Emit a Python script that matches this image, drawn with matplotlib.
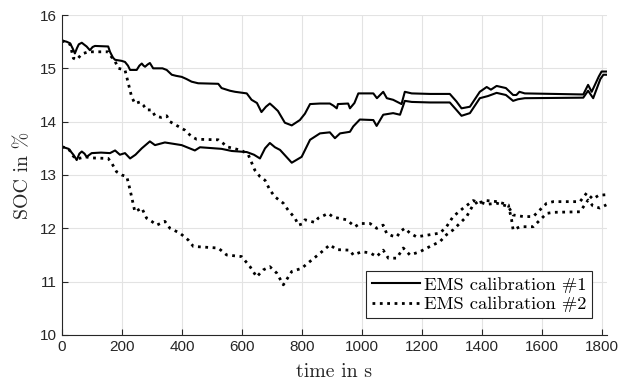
import numpy as np
import matplotlib
matplotlib.use('Agg')
import matplotlib.pyplot as plt

# EMS calibration #1 (solid), two runs
t_a1 = [0, 15, 27, 35, 43, 50, 56, 66, 75, 82, 93, 102, 110, 154, 160, 170, 177, 199, 210, 220,
        227, 249, 258, 266, 272, 277, 285, 293, 304, 320, 335, 349, 366, 380, 399, 415, 432, 454,
        521, 532, 560, 577, 616, 632, 650, 665, 680, 693, 705, 720, 743, 766, 793, 810, 827, 860,
        893, 905, 916, 920, 954, 960, 975, 988, 1038, 1050, 1071, 1083, 1104, 1132, 1143, 1166,
        1227, 1293, 1315, 1332, 1360, 1393, 1416, 1430, 1449, 1480, 1504, 1515, 1525, 1543, 1738,
        1754, 1766, 1790, 1799, 1815]
soc_a1 = [15.52, 15.5, 15.47, 15.38, 15.28, 15.38, 15.45, 15.48, 15.44, 15.41, 15.34, 15.4, 15.42,
          15.41, 15.31, 15.2, 15.16, 15.14, 15.12, 15.05, 14.97, 14.97, 15.05, 15.09, 15.05, 15.03,
          15.07, 15.1, 15.0, 15.0, 15.0, 14.97, 14.88, 14.86, 14.84, 14.8, 14.75, 14.72, 14.71,
          14.63, 14.58, 14.56, 14.53, 14.41, 14.35, 14.18, 14.28, 14.34, 14.28, 14.2, 13.98, 13.93,
          14.03, 14.15, 14.33, 14.34, 14.34, 14.3, 14.25, 14.33, 14.34, 14.25, 14.35, 14.53, 14.53,
          14.44, 14.56, 14.44, 14.41, 14.33, 14.56, 14.53, 14.52, 14.52, 14.38, 14.25, 14.28, 14.56,
          14.65, 14.6, 14.67, 14.63, 14.5, 14.5, 14.56, 14.53, 14.51, 14.69, 14.56, 14.85, 14.94,
          14.94]

t_a2 = [0, 22, 38, 49, 58, 66, 75, 82, 99, 130, 160, 177, 193, 210, 227, 245, 266, 293, 310, 343,
        399, 443, 460, 532, 566, 616, 640, 660, 677, 693, 710, 727, 766, 799, 827, 860, 893, 910,
        927, 960, 971, 993, 1038, 1049, 1071, 1104, 1127, 1143, 1166, 1227, 1293, 1315, 1332,
        1360, 1393, 1420, 1449, 1480, 1504, 1520, 1543, 1738, 1754, 1771, 1795, 1805, 1815]
soc_a2 = [13.53, 13.49, 13.38, 13.28, 13.4, 13.44, 13.4, 13.34, 13.41, 13.42, 13.41, 13.46, 13.38,
          13.41, 13.31, 13.38, 13.5, 13.63, 13.56, 13.61, 13.56, 13.46, 13.52, 13.49, 13.45, 13.43,
          13.38, 13.31, 13.5, 13.6, 13.52, 13.47, 13.23, 13.34, 13.66, 13.78, 13.8, 13.69, 13.78,
          13.81, 13.91, 14.04, 14.03, 13.92, 14.13, 14.16, 14.13, 14.39, 14.37, 14.36, 14.36,
          14.22, 14.11, 14.16, 14.44, 14.48, 14.54, 14.5, 14.39, 14.42, 14.44, 14.45, 14.58, 14.44,
          14.8, 14.88, 14.88]

# EMS calibration #2 (dotted), two runs
t_b1 = [0, 27, 38, 49, 66, 88, 154, 160, 177, 188, 210, 221, 232, 243, 260, 271, 282, 299, 310,
        330, 349, 360, 388, 410, 432, 449, 521, 538, 549, 599, 621, 643, 660, 677, 693, 710, 738,
        754, 777, 788, 800, 810, 843, 854, 888, 904, 949, 977, 993, 1027, 1049, 1071, 1082, 1100,
        1116, 1130, 1143, 1160, 1182, 1227, 1260, 1282, 1304, 1338, 1371, 1390, 1416, 1450, 1488,
        1499, 1504, 1527, 1571, 1616, 1640, 1727, 1754, 1770, 1793, 1815]
soc_b1 = [15.52, 15.45, 15.19, 15.16, 15.27, 15.31, 15.31, 15.25, 15.13, 15.0, 14.97, 14.72, 14.47,
          14.34, 14.37, 14.31, 14.22, 14.22, 14.11, 14.08, 14.11, 14.0, 13.91, 13.84, 13.72, 13.67,
          13.66, 13.59, 13.53, 13.46, 13.38, 13.09, 12.97, 12.9, 12.72, 12.59, 12.47, 12.34, 12.19,
          12.06, 12.08, 12.16, 12.11, 12.19, 12.28, 12.21, 12.16, 12.03, 12.09, 12.09, 12.0, 12.06,
          11.91, 11.86, 11.84, 11.95, 12.0, 11.91, 11.84, 11.88, 11.91, 12.03, 12.22, 12.38, 12.52,
          12.48, 12.52, 12.5, 12.44, 12.16, 11.97, 12.03, 12.03, 12.28, 12.3, 12.31, 12.53, 12.42,
          12.38, 12.44]

t_b2 = [0, 22, 38, 49, 77, 99, 154, 166, 182, 199, 216, 227, 238, 243, 266, 282, 299, 316, 343,
        360, 393, 421, 438, 521, 549, 599, 627, 649, 671, 693, 716, 738, 766, 799, 827, 860, 893,
        916, 960, 971, 999, 1027, 1049, 1071, 1088, 1116, 1138, 1160, 1193, 1227, 1260, 1282,
        1304, 1349, 1371, 1388, 1416, 1450, 1488, 1504, 1538, 1571, 1616, 1638, 1727, 1749, 1770,
        1790, 1815]
soc_b2 = [13.53, 13.49, 13.35, 13.3, 13.34, 13.32, 13.31, 13.22, 13.06, 13.0, 12.97, 12.72, 12.44,
          12.31, 12.38, 12.19, 12.13, 12.06, 12.13, 12.0, 11.91, 11.78, 11.66, 11.63, 11.5, 11.47,
          11.28, 11.09, 11.22, 11.28, 11.16, 10.94, 11.19, 11.25, 11.38, 11.53, 11.69, 11.6, 11.59,
          11.5, 11.56, 11.54, 11.47, 11.59, 11.44, 11.44, 11.63, 11.5, 11.56, 11.66, 11.75, 11.88,
          11.97, 12.22, 12.44, 12.5, 12.45, 12.47, 12.41, 12.25, 12.22, 12.22, 12.47, 12.5, 12.5,
          12.66, 12.55, 12.62, 12.63]

x_ticks = [0, 200, 400, 600, 800, 1000, 1200, 1400, 1600, 1800]
y_ticks = [10, 11, 12, 13, 14, 15, 16]

serif = ['cmr10', 'DejaVu Serif']
axis_col = '#262626'

fig = plt.figure(figsize=(6.2, 3.85), dpi=100)
ax = fig.add_axes([0.1, 0.13, 0.879, 0.831])

l1, = ax.plot(t_a1, soc_a1, color='black', lw=1.5, label='EMS calibration #1')
ax.plot(t_a2, soc_a2, color='black', lw=1.5)
l2, = ax.plot(t_b1, soc_b1, color='black', lw=2, ls=':', label='EMS calibration #2')
ax.plot(t_b2, soc_b2, color='black', lw=2, ls=':')

ax.set_xlim(0, 1817)
ax.set_ylim(10, 16)
ax.set_xticks(x_ticks)
ax.set_yticks(y_ticks)
ax.grid(True, color='#e3e3e3', lw=0.8)
ax.set_axisbelow(True)

for s in ['top', 'right']:
    ax.spines[s].set_visible(False)
for s in ['left', 'bottom']:
    ax.spines[s].set_color(axis_col)
    ax.spines[s].set_linewidth(0.8)

ax.tick_params(direction='in', length=4, width=0.8, colors=axis_col, labelsize=11)
for lab in ax.get_xticklabels() + ax.get_yticklabels():
    lab.set_family('Liberation Sans')

ax.set_xlabel('time in s', family=serif, fontsize=14.3, color=axis_col, labelpad=7)
ax.set_ylabel('SOC in %', family=serif, fontsize=14.3, color=axis_col, labelpad=6)

leg = ax.legend(handles=[l1, l2], loc='lower right', bbox_to_anchor=(0.972, 0.053),
                prop={'family': serif, 'size': 13.3}, fancybox=False, framealpha=1,
                edgecolor=axis_col, handlelength=2.6, handletextpad=0.2,
                borderpad=0.3, labelspacing=0.2, borderaxespad=0)
leg.get_frame().set_linewidth(0.8)

fig.savefig('out.png', dpi=100)
